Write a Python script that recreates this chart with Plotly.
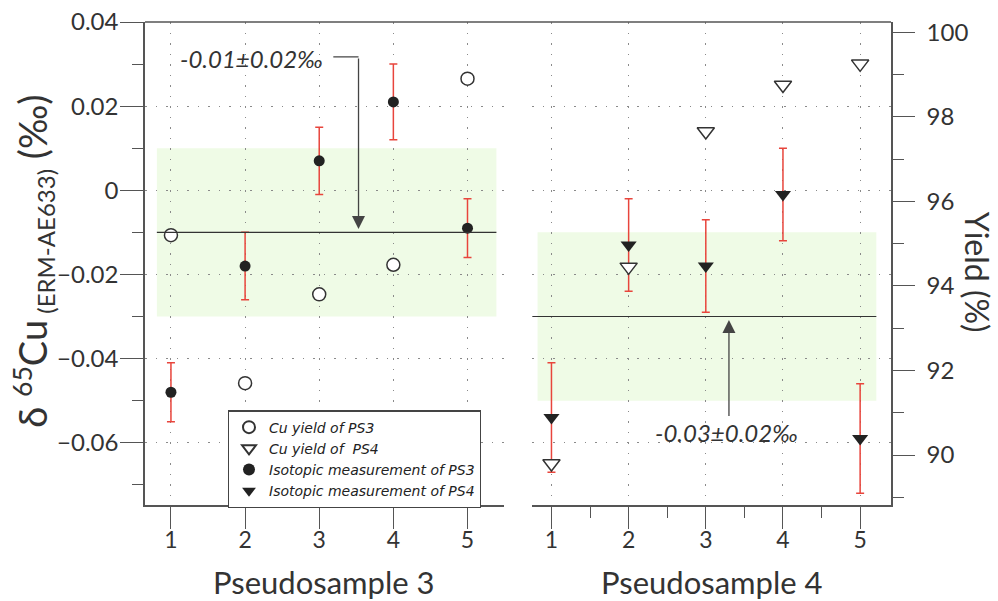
import plotly.graph_objects as go

samples = [1, 2, 3, 4, 5]

# Pseudosample 3
ps3_iso = [-0.048, -0.018, 0.007, 0.021, -0.009]
ps3_err = [0.007, 0.008, 0.008, 0.009, 0.007]
ps3_yield = [95.2, 91.7, 93.8, 94.5, 98.9]

# Pseudosample 4
ps4_iso = [-0.054, -0.013, -0.018, -0.001, -0.059]
ps4_err = [0.013, 0.011, 0.011, 0.011, 0.013]
ps4_yield = [89.8, 94.45, 97.65, 98.75, 99.25]

ps3_mean, ps3_sd = -0.01, 0.02
ps4_mean, ps4_sd = -0.03, 0.02

left_ticks = [-0.06, -0.04, -0.02, 0, 0.02, 0.04]
left_ticktext = ["\u22120.06", "\u22120.04", "\u22120.02", "0", "0.02", "0.04"]
right_ticks = [90, 92, 94, 96, 98, 100]

FONT = "Lato"
AX = "#555555"
DARK = "#222222"
RED = "#e8453c"
GREEN = "#effbe6"
GRID = "#8a8a8a"
TXT = "#333333"

fig = go.Figure()

fig.add_trace(go.Scatter(x=samples, y=ps3_yield, xaxis="x", yaxis="y3", mode="markers",
                         name="Cu yield of PS3",
                         marker=dict(symbol="circle", size=13, color="white",
                                     line=dict(color="#333333", width=1.5))))
fig.add_trace(go.Scatter(x=samples, y=ps4_yield, xaxis="x2", yaxis="y2", mode="markers",
                         name="Cu yield of  PS4",
                         marker=dict(symbol="triangle-down", size=15, color="white",
                                     line=dict(color="#333333", width=1.5))))
fig.add_trace(go.Scatter(x=samples, y=ps3_iso, xaxis="x", yaxis="y", mode="markers",
                         name="Isotopic measurement of PS3",
                         error_y=dict(type="data", array=ps3_err, color=RED, thickness=1.5, width=4),
                         marker=dict(symbol="circle", size=11, color=DARK)))
fig.add_trace(go.Scatter(x=samples, y=ps4_iso, xaxis="x2", yaxis="y", mode="markers",
                         name="Isotopic measurement of PS4",
                         error_y=dict(type="data", array=ps4_err, color=RED, thickness=1.5, width=4),
                         marker=dict(symbol="triangle-down", size=14, color=DARK)))

shapes = [
    dict(type="rect", xref="x", yref="y", x0=0.81, x1=5.39,
         y0=ps3_mean - ps3_sd, y1=ps3_mean + ps3_sd,
         fillcolor=GREEN, line=dict(width=0), layer="below"),
    dict(type="rect", xref="x2", yref="y", x0=0.82, x1=5.21,
         y0=ps4_mean - ps4_sd, y1=ps4_mean + ps4_sd,
         fillcolor=GREEN, line=dict(width=0), layer="below"),
    dict(type="line", xref="x", yref="y", x0=0.81, x1=5.39, y0=ps3_mean, y1=ps3_mean,
         line=dict(color="#333333", width=1.2)),
    dict(type="line", xref="x2", yref="y", x0=0.75, x1=5.21, y0=ps4_mean, y1=ps4_mean,
         line=dict(color="#333333", width=1.2)),
    dict(type="line", xref="x", yref="y", x0=3.19, x1=3.53, y0=0.0317, y1=0.0317,
         line=dict(color="#444444", width=1.3)),
    dict(type="line", xref="paper", yref="paper", x0=0, x1=1, y0=1, y1=1,
         line=dict(color=AX, width=1.5)),
]

annotations = [
    dict(xref="x", yref="y", x=3.53, y=ps3_mean + 0.0008, ax=3.53, ay=0.0317,
         axref="x", ayref="y", showarrow=True, arrowhead=2, arrowsize=2.0,
         arrowwidth=1.3, arrowcolor="#444444", text=""),
    dict(xref="x", yref="y", x=3.08, y=0.0313, xanchor="right", yanchor="middle",
         showarrow=False, text="-0.01\u00b10.02\u2030",
         font=dict(family=FONT, size=24, color=TXT, style="italic")),
    dict(xref="x2", yref="y", x=3.30, y=ps4_mean - 0.0008, ax=3.30, ay=-0.054,
         axref="x2", ayref="y", showarrow=True, arrowhead=2, arrowsize=2.0,
         arrowwidth=1.3, arrowcolor="#444444", text=""),
    dict(xref="x2", yref="y", x=3.27, y=-0.0575, xanchor="center", yanchor="middle",
         showarrow=False, text="-0.03\u00b10.02\u2030",
         font=dict(family=FONT, size=24, color=TXT, style="italic")),
    dict(xref="paper", yref="paper", x=0.240, y=-0.160, xanchor="center", yanchor="middle",
         showarrow=False,
         text="Pseudosample 3", font=dict(family=FONT, size=31, color=TXT)),
    dict(xref="paper", yref="paper", x=0.760, y=-0.160, xanchor="center", yanchor="middle",
         showarrow=False,
         text="Pseudosample 4", font=dict(family=FONT, size=31, color=TXT)),
    dict(xref="paper", yref="paper", x=-0.150, y=0.504, xanchor="center", yanchor="middle",
         showarrow=False, textangle=-90,
         text="\u03b4 <sup>65</sup>Cu<sub><span style='font-size:24px'> (ERM-AE633)</span></sub> (\u2030)",
         font=dict(family=FONT, size=38, color=TXT)),
    dict(xref="paper", yref="paper", x=1.1153, y=0.483, xanchor="center", yanchor="middle",
         showarrow=False, textangle=90,
         text="Yield (%)", font=dict(family=FONT, size=32, color=TXT)),
]

tickfont = dict(family=FONT, size=24, color=TXT)
xtickfont = dict(family=FONT, size=23, color=TXT)

fig.update_layout(
    width=998, height=601,
    margin=dict(l=145, r=107, t=22, b=96),
    paper_bgcolor="white", plot_bgcolor="white",
    font=dict(family=FONT, color=TXT),
    showlegend=True,
    legend=dict(x=0.111, y=0.196, xanchor="left", yanchor="top",
                bgcolor="white", bordercolor="#444444", borderwidth=1.2,
                font=dict(family="DejaVu Sans", size=14, color="#222222", style="italic"),
                tracegroupgap=0, itemsizing="constant", itemwidth=30),
    shapes=shapes, annotations=annotations,
    xaxis=dict(domain=[0, 0.481], range=[0.65, 5.49], anchor="y", automargin=False,
               tickvals=samples, ticks="outside", ticklen=22, tickcolor=AX, tickwidth=1.2,
               showline=True, linecolor=AX, linewidth=1.5,
               showgrid=True, gridcolor=GRID, griddash="1.5px,9px", gridwidth=1.2,
               zeroline=False, tickfont=xtickfont, ticklabelstandoff=-8),
    xaxis2=dict(domain=[0.519, 1], range=[0.75, 5.40], anchor="y", automargin=False,
                tickvals=samples, ticks="outside", ticklen=22, tickcolor=AX, tickwidth=1.2,
                minor=dict(tickvals=[1.5, 2.5, 3.5, 4.5], ticks="outside", ticklen=11,
                           tickcolor=AX, tickwidth=1.2, showgrid=False),
                showline=True, linecolor=AX, linewidth=1.5,
                showgrid=True, gridcolor=GRID, griddash="1.5px,9px", gridwidth=1.2,
                zeroline=False, tickfont=xtickfont, ticklabelstandoff=-8),
    yaxis=dict(range=[-0.0748, 0.04], anchor="x", automargin=False,
               tickvals=left_ticks, ticktext=left_ticktext,
               ticks="outside", ticklen=23, tickcolor=AX, tickwidth=1.2,
               minor=dict(tickvals=[-0.07, -0.05, -0.03, -0.01, 0.01, 0.03], ticks="outside",
                          ticklen=11, tickcolor=AX, tickwidth=1.2, showgrid=False),
               showline=True, linecolor=AX, linewidth=1.5,
               showgrid=True, gridcolor=GRID, griddash="1.5px,9px", gridwidth=1.2,
               zeroline=False, tickfont=tickfont, ticklabelstandoff=-3),
    yaxis2=dict(range=[88.82, 100.24], anchor="x2", overlaying="y", side="right",
                automargin=False,
                tickvals=right_ticks, ticks="outside", ticklen=22, tickcolor=AX, tickwidth=1.2,
                minor=dict(tickvals=[89, 91, 93, 95, 97, 99], ticks="outside", ticklen=11,
                           tickcolor=AX, tickwidth=1.2, showgrid=False),
                showline=True, linecolor=AX, linewidth=1.5,
                showgrid=False, zeroline=False, tickfont=tickfont, ticklabelstandoff=7),
    yaxis3=dict(range=[88.82, 100.24], anchor="x", overlaying="y", visible=False,
                showgrid=False, zeroline=False),
)

fig.write_html("out.html", config={"displayModeBar": False},
               post_script="document.body.style.margin='0';")
